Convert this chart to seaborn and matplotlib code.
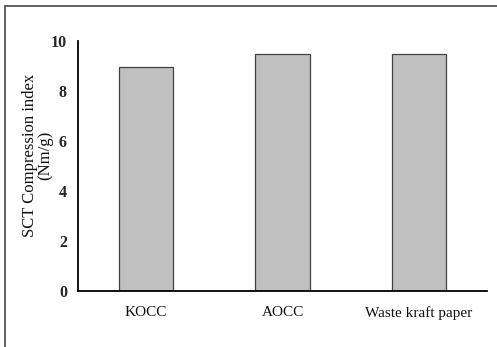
import matplotlib
matplotlib.use("Agg")
import matplotlib.pyplot as plt
from matplotlib.lines import Line2D
import seaborn as sns
import pandas as pd

categories = ["KOCC", "AOCC", "Waste kraft paper"]
sct_index = [8.95, 9.5, 9.47]
y_ticks = [0, 2, 4, 6, 8, 10]

sns.set_style("white")
plt.rcParams["font.family"] = ["Liberation Serif", "DejaVu Serif"]

W, H = 497, 347
fig = plt.figure(figsize=(W / 100, H / 100), dpi=100)
ax = fig.add_axes([78 / W, 1 - 291 / H, (487 - 78) / W, (291 - 41) / H])

df = pd.DataFrame({"sample": categories, "sct": sct_index})
sns.barplot(data=df, x="sample", y="sct", ax=ax, color="#c0c0c0",
            saturation=1, width=0.4, edgecolor="#404040", linewidth=0.9)

ax.set_xlim(-0.5, len(categories) - 0.5)
ax.set_ylim(0, 10)
ax.set_yticks(y_ticks)
ax.set_yticklabels([str(t) for t in y_ticks], fontsize=11.5, fontweight="bold")
ax.set_xticks(range(len(categories)))
ax.set_xticklabels(categories, fontsize=11)
ax.set_xticks([i - 0.5 for i in range(len(categories) + 1)], minor=True)
ax.tick_params(axis="x", which="major", length=0, pad=11, labelcolor="#111111")
ax.tick_params(axis="x", which="minor", length=4, width=1.2, direction="out", color="black")
ax.tick_params(axis="y", length=4, width=1.2, direction="out", color="black", pad=4)

for side in ["top", "right"]:
    ax.spines[side].set_visible(False)
for side in ["left", "bottom"]:
    ax.spines[side].set_color("black")
    ax.spines[side].set_linewidth(1.3)

ax.set_xlabel("")
ax.set_ylabel("SCT Compression index\n(Nm/g)", fontsize=12, linespacing=0.95,
              color="#111111")
ax.yaxis.set_label_coords(-0.06, 0.544)

# outer frame: top and left edges only
fig.add_artist(Line2D([4.5 / W, 1.0], [1 - 5.5 / H, 1 - 5.5 / H],
                      transform=fig.transFigure, color="#555555", lw=1.3))
fig.add_artist(Line2D([4.5 / W, 4.5 / W], [0, 1 - 5.5 / H],
                      transform=fig.transFigure, color="#555555", lw=1.3))

fig.savefig("out.png", dpi=100)
